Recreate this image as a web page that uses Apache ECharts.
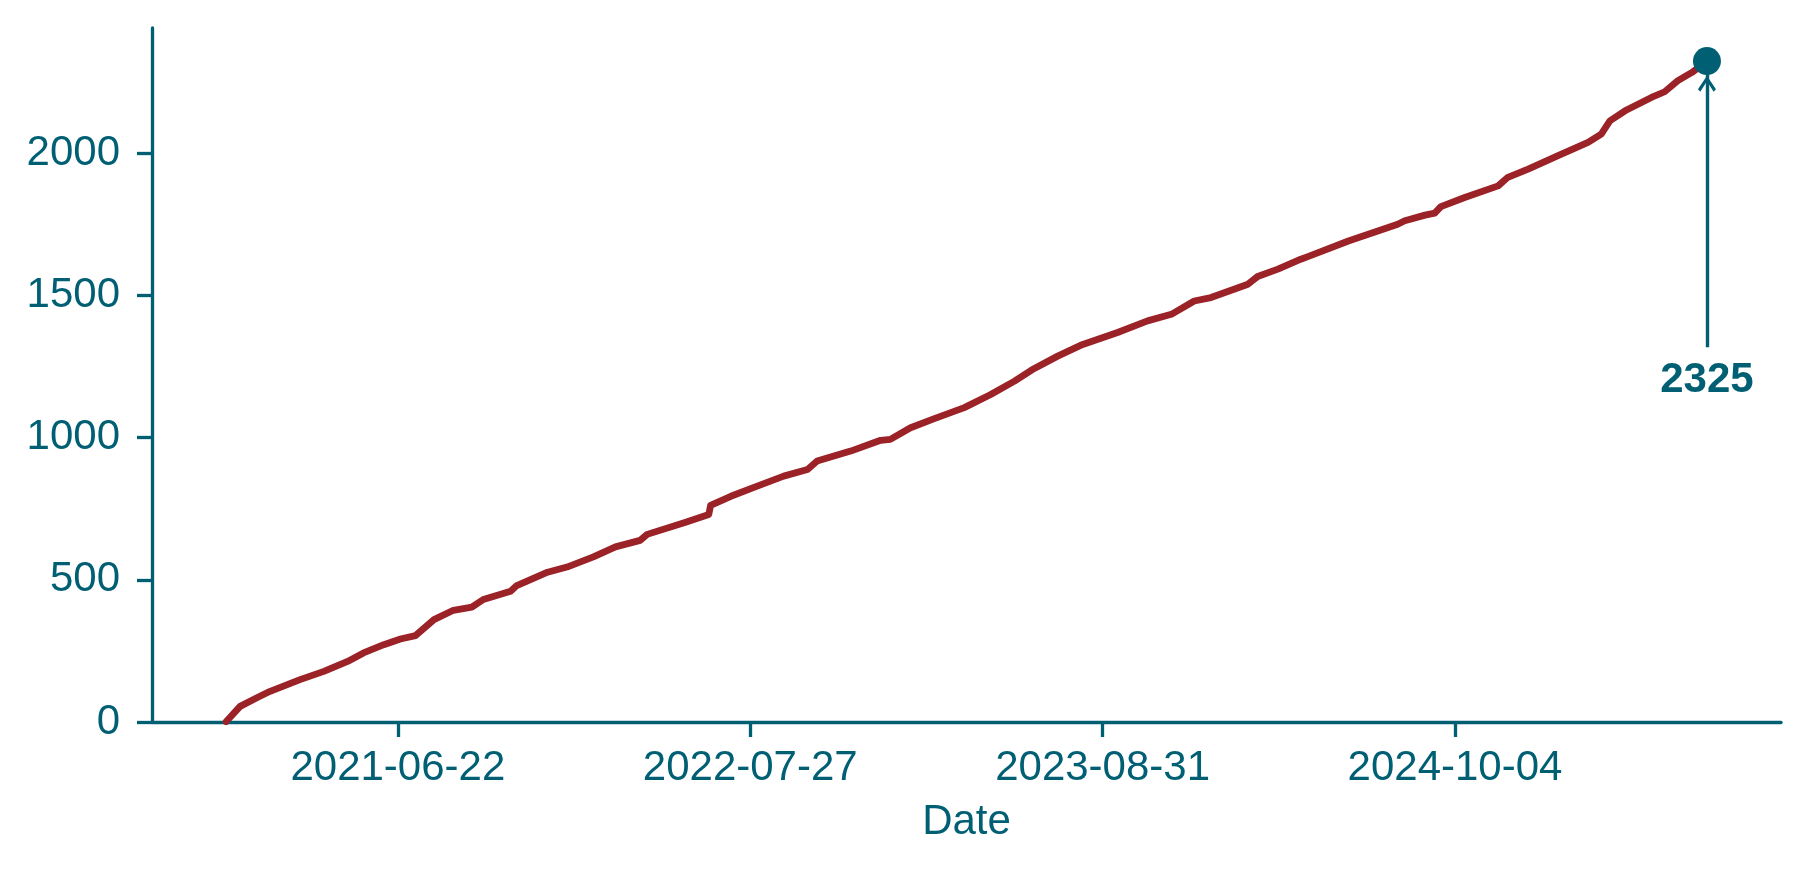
<!DOCTYPE html>
<html>
<head>
<meta charset="utf-8">
<script src="https://cdn.jsdelivr.net/npm/echarts@6/dist/echarts.min.js"></script>
<style>
  html, body { margin: 0; padding: 0; background: #ffffff; }
  #chart { width: 1809px; height: 874px; }
</style>
</head>
<body>
<div id="chart"></div>
<script>
// ---- data ----
const dates = [
  '2020-12-09','2020-12-25','2021-01-13','2021-01-28','2021-03-03','2021-03-30','2021-04-26','2021-05-14',
  '2021-06-06','2021-06-25','2021-07-12','2021-08-02','2021-08-24','2021-09-14','2021-09-27','2021-10-28',
  '2021-11-04','2021-12-09','2021-12-31','2022-01-30','2022-02-24','2022-03-24','2022-04-01','2022-05-13',
  '2022-06-10','2022-06-12','2022-07-05','2022-08-04','2022-09-03','2022-09-30','2022-10-11','2022-11-18',
  '2022-12-22','2023-01-02','2023-01-25','2023-02-21','2023-03-27','2023-04-26','2023-05-23','2023-06-14',
  '2023-07-11','2023-08-06','2023-09-17','2023-10-21','2023-11-17','2023-12-13','2024-01-01','2024-02-12',
  '2024-02-23','2024-03-17','2024-04-12','2024-04-20','2024-06-05','2024-07-31','2024-08-08','2024-08-31',
  '2024-09-11','2024-09-18','2024-10-15','2024-11-22','2024-12-03','2024-12-26','2025-01-29','2025-03-04',
  '2025-03-19','2025-03-29','2025-04-15','2025-05-15','2025-05-30','2025-06-14','2025-06-30','2025-07-17'
];
const counts = [
  1, 55, 85, 108, 149, 178, 213, 243,
  272, 292, 304, 360, 393, 404, 431, 460,
  480, 527, 545, 581, 616, 639, 660, 701,
  730, 762, 794, 830, 865, 888, 918, 953,
  991, 994, 1035, 1067, 1106, 1152, 1199, 1243,
  1287, 1325, 1370, 1411, 1434, 1481, 1493, 1540,
  1567, 1593, 1628, 1637, 1692, 1751, 1763, 1783,
  1790, 1813, 1845, 1886, 1916, 1945, 1992, 2039,
  2068, 2115, 2150, 2197, 2217, 2256, 2285, 2325
];
const tickDates = ['2021-06-22', '2022-07-27', '2023-08-31', '2024-10-04'];
const arrowFromValue = 1318;   // tail of the annotation arrow (data units)
const arrowHeadValue = 2245;   // arrow head centre, just below the end marker
const xAxisName = 'Date';

// ---- helpers ----
const TEAL = '#005f73';
const RED = '#9b2226';
const FONT = '"Liberation Sans", Arial, Helvetica, sans-serif';
const FS = 42;
function ts(s) { const p = s.split('-').map(Number); return Date.UTC(p[0], p[1] - 1, p[2]); }
function fmt(v) {
  const d = new Date(v);
  const mm = String(d.getUTCMonth() + 1).padStart(2, '0');
  const dd = String(d.getUTCDate()).padStart(2, '0');
  return d.getUTCFullYear() + '-' + mm + '-' + dd;
}

const seriesData = dates.map((d, i) => [ts(d), counts[i]]);
const first = seriesData[0][0];
const last = seriesData[seriesData.length - 1][0];
const lastValue = counts[counts.length - 1];
const span = last - first;
const xMin = first - 0.05 * span;
const xMax = last + 0.05 * span;
const yMax = lastValue * 1.05;
const tickValues = tickDates.map(ts);

// open "->" arrow head pointing up
const chevron = 'path://M50,0 L100,84 L87,100 L50,34 L13,100 L0,84 Z';

const chart = echarts.init(document.getElementById('chart'), null, { renderer: 'canvas' });
chart.setOption({
  animation: false,
  backgroundColor: '#ffffff',
  textStyle: { fontFamily: FONT },
  grid: { left: 152, right: 28, top: 28, bottom: 152 },
  xAxis: {
    type: 'value',
    min: xMin,
    max: xMax,
    scale: true,
    name: xAxisName,
    nameLocation: 'middle',
    nameGap: 79,
    nameTextStyle: { color: TEAL, fontSize: FS, fontFamily: FONT },
    axisLine: { show: true, onZero: false, lineStyle: { color: TEAL, width: 3.3 } },
    axisTick: { show: true, length: 15, lineStyle: { color: TEAL, width: 3.3 }, customValues: tickValues },
    axisLabel: {
      color: TEAL, fontSize: FS, fontFamily: FONT, margin: 25,
      customValues: tickValues,
      formatter: (v) => fmt(v)
    },
    splitLine: { show: false },
    minorTick: { show: false }
  },
  yAxis: {
    type: 'value',
    min: 0,
    max: yMax,
    interval: 500,
    axisLine: { show: true, lineStyle: { color: TEAL, width: 3.3 } },
    axisTick: { show: true, length: 15, lineStyle: { color: TEAL, width: 3.3 } },
    axisLabel: {
      color: TEAL, fontSize: FS, fontFamily: FONT, margin: 32, showMaxLabel: false,
      formatter: (v) => String(v)
    },
    splitLine: { show: false }
  },
  series: [
    {
      type: 'line',
      data: seriesData,
      showSymbol: false,
      symbol: 'none',
      lineStyle: { color: RED, width: 6.8, cap: 'round', join: 'round' },
      z: 2,
      silent: true
    },
    {
      // arrow head + shaft + annotation text
      type: 'scatter',
      data: [[last, arrowHeadValue]],
      symbol: chevron,
      symbolSize: [18, 16],
      itemStyle: { color: TEAL, opacity: 1 },
      z: 3,
      silent: true,
      markLine: {
        silent: true,
        symbol: ['none', 'none'],
        lineStyle: { color: TEAL, width: 3.4, type: 'solid', opacity: 1 },
        label: {
          show: true,
          position: 'start',
          distance: 12,
          formatter: String(lastValue),
          color: TEAL,
          fontSize: FS,
          fontWeight: 'bold',
          fontFamily: FONT
        },
        emphasis: { disabled: true },
        data: [[ { coord: [last, arrowFromValue] }, { coord: [last, lastValue] } ]]
      }
    },
    {
      // end marker
      type: 'scatter',
      data: [[last, lastValue]],
      symbol: 'circle',
      symbolSize: 28,
      itemStyle: { color: TEAL, opacity: 1 },
      z: 4,
      silent: true
    }
  ]
});
</script>
</body>
</html>
